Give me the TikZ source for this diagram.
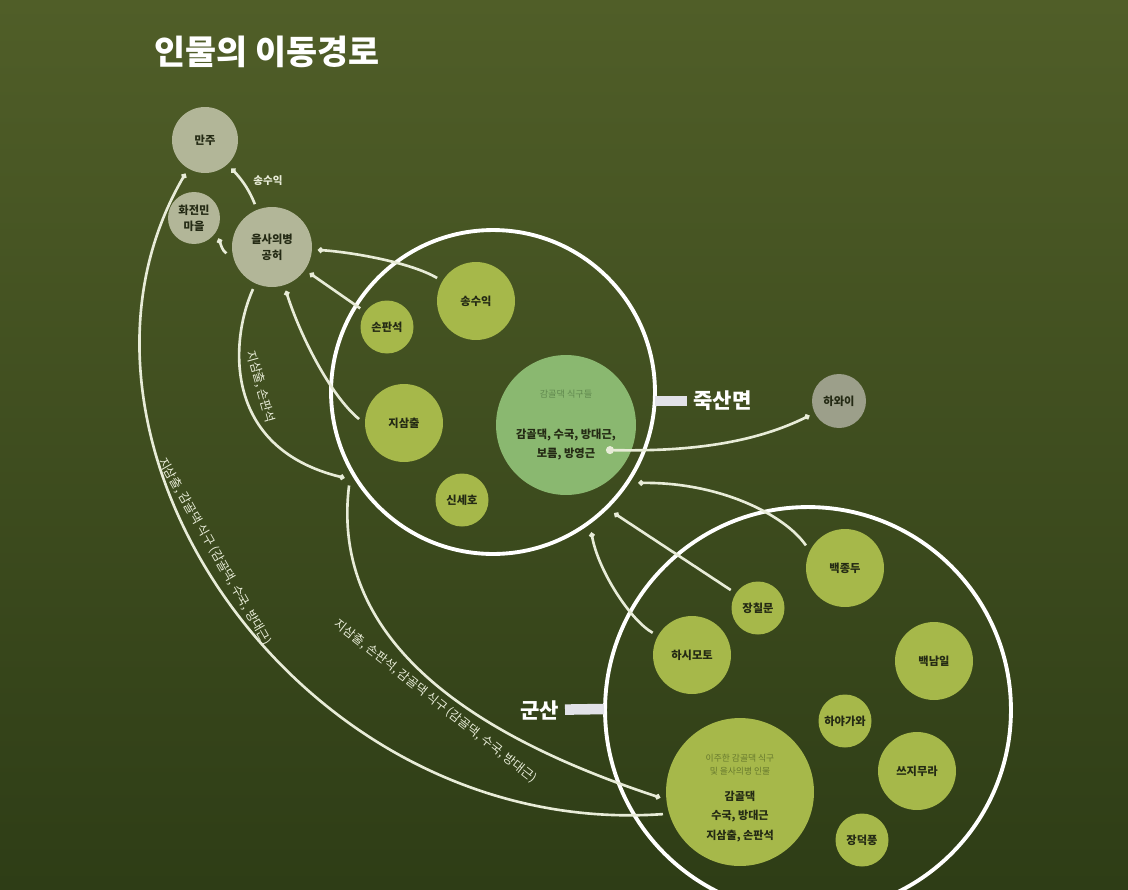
\documentclass[tikz,border=0pt]{standalone}
\usepackage{fontspec}
\setmainfont{Noto Sans CJK KR}
\usetikzlibrary{arrows.meta}
\definecolor{bgtop}{RGB}{80,94,40}
\definecolor{bgbottom}{RGB}{46,61,22}
\definecolor{placegray}{RGB}{178,182,152}
\definecolor{farplace}{RGB}{156,159,138}
\definecolor{personfill}{RGB}{166,184,74}
\definecolor{kamgolfill}{RGB}{138,184,112}
\definecolor{nodetext}{RGB}{36,42,20}
\definecolor{routecolor}{RGB}{232,236,216}
\definecolor{kamhead}{RGB}{96,136,78}
\definecolor{igamhead}{RGB}{104,122,46}
\definecolor{tagcolor}{RGB}{226,226,232}
\newcommand{\kamhead}[1]{{\color{kamhead}\mdseries\fontsize{5.2}{6}\selectfont #1}}
\newcommand{\igamhead}[1]{{\color{igamhead}\mdseries\fontsize{5}{6}\selectfont #1}}
\tikzstyle{place}=[circle, fill=placegray, inner sep=0pt, outer sep=3.5pt, align=center, text=nodetext, font=\bfseries\fontsize{6.4}{9}\selectfont]
\tikzstyle{person}=[place, fill=personfill, minimum size=1.56cm]
\tikzstyle{minor}=[place, fill=personfill, minimum size=1.06cm]
\tikzstyle{region}=[circle, draw=white, line width=2.2pt, inner sep=0pt, outer sep=5.5pt]
\tikzstyle{route}=[draw=routecolor, line width=1.5pt, -{Circle[length=3pt]}]
\tikzstyle{routelabel}=[text=routecolor, font=\fontsize{7}{8}\selectfont, sloped, inner sep=3pt]
\tikzstyle{tag}=[draw=tagcolor, line width=6pt]
\tikzstyle{taglabel}=[text=white, font=\bfseries\fontsize{12}{14}\selectfont]

\begin{document}
\begin{tikzpicture}[x=0.02cm, y=-0.02cm]
            \shade[top color=bgtop, bottom color=bgbottom] (0,0) rectangle (1128,889);
            \useasboundingbox (0,0) rectangle (1128,889);
            \node[anchor=west, text=white, font=\bfseries\fontsize{19.2}{23}\selectfont] (title) at (148,52) {인물의 이동경로};
            \node[region, minimum size=6.48cm] (juksan) at (493,392) {};
            \node[region, minimum size=8.12cm] (gunsan) at (808,710) {};
            \node[place, minimum size=1.32cm] (manju) at (205,140) {만주};
            \node[place, minimum size=1.04cm] (hwajeon) at (194,218) {화전민\\마을};
            \node[place, minimum size=1.6cm] (uisa) at (272,247) {을사의병\\공허};
            \node[place, fill=farplace, minimum size=1.08cm] (hawaii) at (839,401) {하와이};
            \node[minor] (sonpan) at (387,327) {손판석};
            \node[person] (songsu) at (476,301) {송수익};
            \node[person] (jisam) at (404,423) {지삼출};
            \node[minor] (sinse) at (462,500) {신세호};
            \node[place, fill=kamgolfill, minimum size=2.8cm, font=\bfseries\fontsize{6.4}{10.8}\selectfont] (kamgol) at (566,425) {\kamhead{감골댁 식구들}\\[12pt]감골댁, 수국, 방대근,\\보름, 방영근};
            \node[person] (baekjong) at (845,568) {백종두};
            \node[minor] (jangchil) at (758,608) {장칠문};
            \node[person] (hashi) at (692,655) {하시모토};
            \node[person] (baeknam) at (934,661) {백남일};
            \node[minor] (haya) at (845,721) {하야가와};
            \node[person] (tsuji) at (917,771) {쓰지무라};
            \node[minor] (jangdeok) at (862,840) {장덕풍};
            \node[place, fill=personfill, minimum size=2.96cm, font=\bfseries\fontsize{6.3}{11}\selectfont] (igam) at (740,792) {\mbox{}\\[0pt]\igamhead{이주한 감골댁 식구}\\[-3.6pt]\igamhead{및 을사의병 인물}\\[3.7pt]감골댁\\수국, 방대근\\지삼출, 손판석};
            \coordinate (kamdot) at (606,450);
            \coordinate (jukedge) at (655,401);
            \coordinate (gunedge) at (604,709);
            \node[taglabel, anchor=west] (juklabel) at (687,401) {죽산면};
            \node[taglabel, anchor=east] (gunlabel) at (565,710) {군산};
            \node[text=routecolor, font=\bfseries\fontsize{6}{7}\selectfont] (songsulabel) at (268,181) {송수익};
            \draw[tag] (jukedge) -- (juklabel);
            \draw[tag] (gunedge) -- (gunlabel);
            \draw[route] (uisa) .. controls (250,192) and (244,182) .. (manju);
            \draw[route] (uisa.188) .. controls (222,250) and (221,245) .. (hwajeon.-40);
            \draw[route] (songsu) .. controls (410,262) and (350,252) .. (uisa);
            \draw[route] (sonpan) -- (uisa);
            \draw[route] (jisam.175) .. controls (330,395) and (300,335) .. (uisa);
            \draw[route] (uisa) .. controls (230,340) and (222,448) .. (juksan.210) node[pos=0.5, routelabel, above, inner sep=5.5pt] {지삼출, 손판석};
            \draw[route] (igam.196) .. controls (300,840) and (30,440) .. (manju) node[pos=0.555, routelabel, above, inner sep=4.5pt] {지삼출, 감골댁 식구 (감골댁, 수국, 방대근)};
            \draw[route] (juksan.213) .. controls (330,640) and (470,735) .. (igam.184) node[pos=0.55, routelabel, below] {지삼출, 손판석, 감골댁 식구 (감골댁, 수국, 방대근)};
            \draw[route, {Circle[length=4.5pt]}-{Circle[length=3pt]}] (kamdot) .. controls (700,452) and (760,440) .. (hawaii);
            \draw[route] (baekjong.150) .. controls (785,515) and (720,482) .. (juksan.-32);
            \draw[route] (jangchil) -- (juksan.-45);
            \draw[route] (hashi) .. controls (630,620) and (598,570) .. (juksan.-55);
	    \end{tikzpicture}
\end{document}
